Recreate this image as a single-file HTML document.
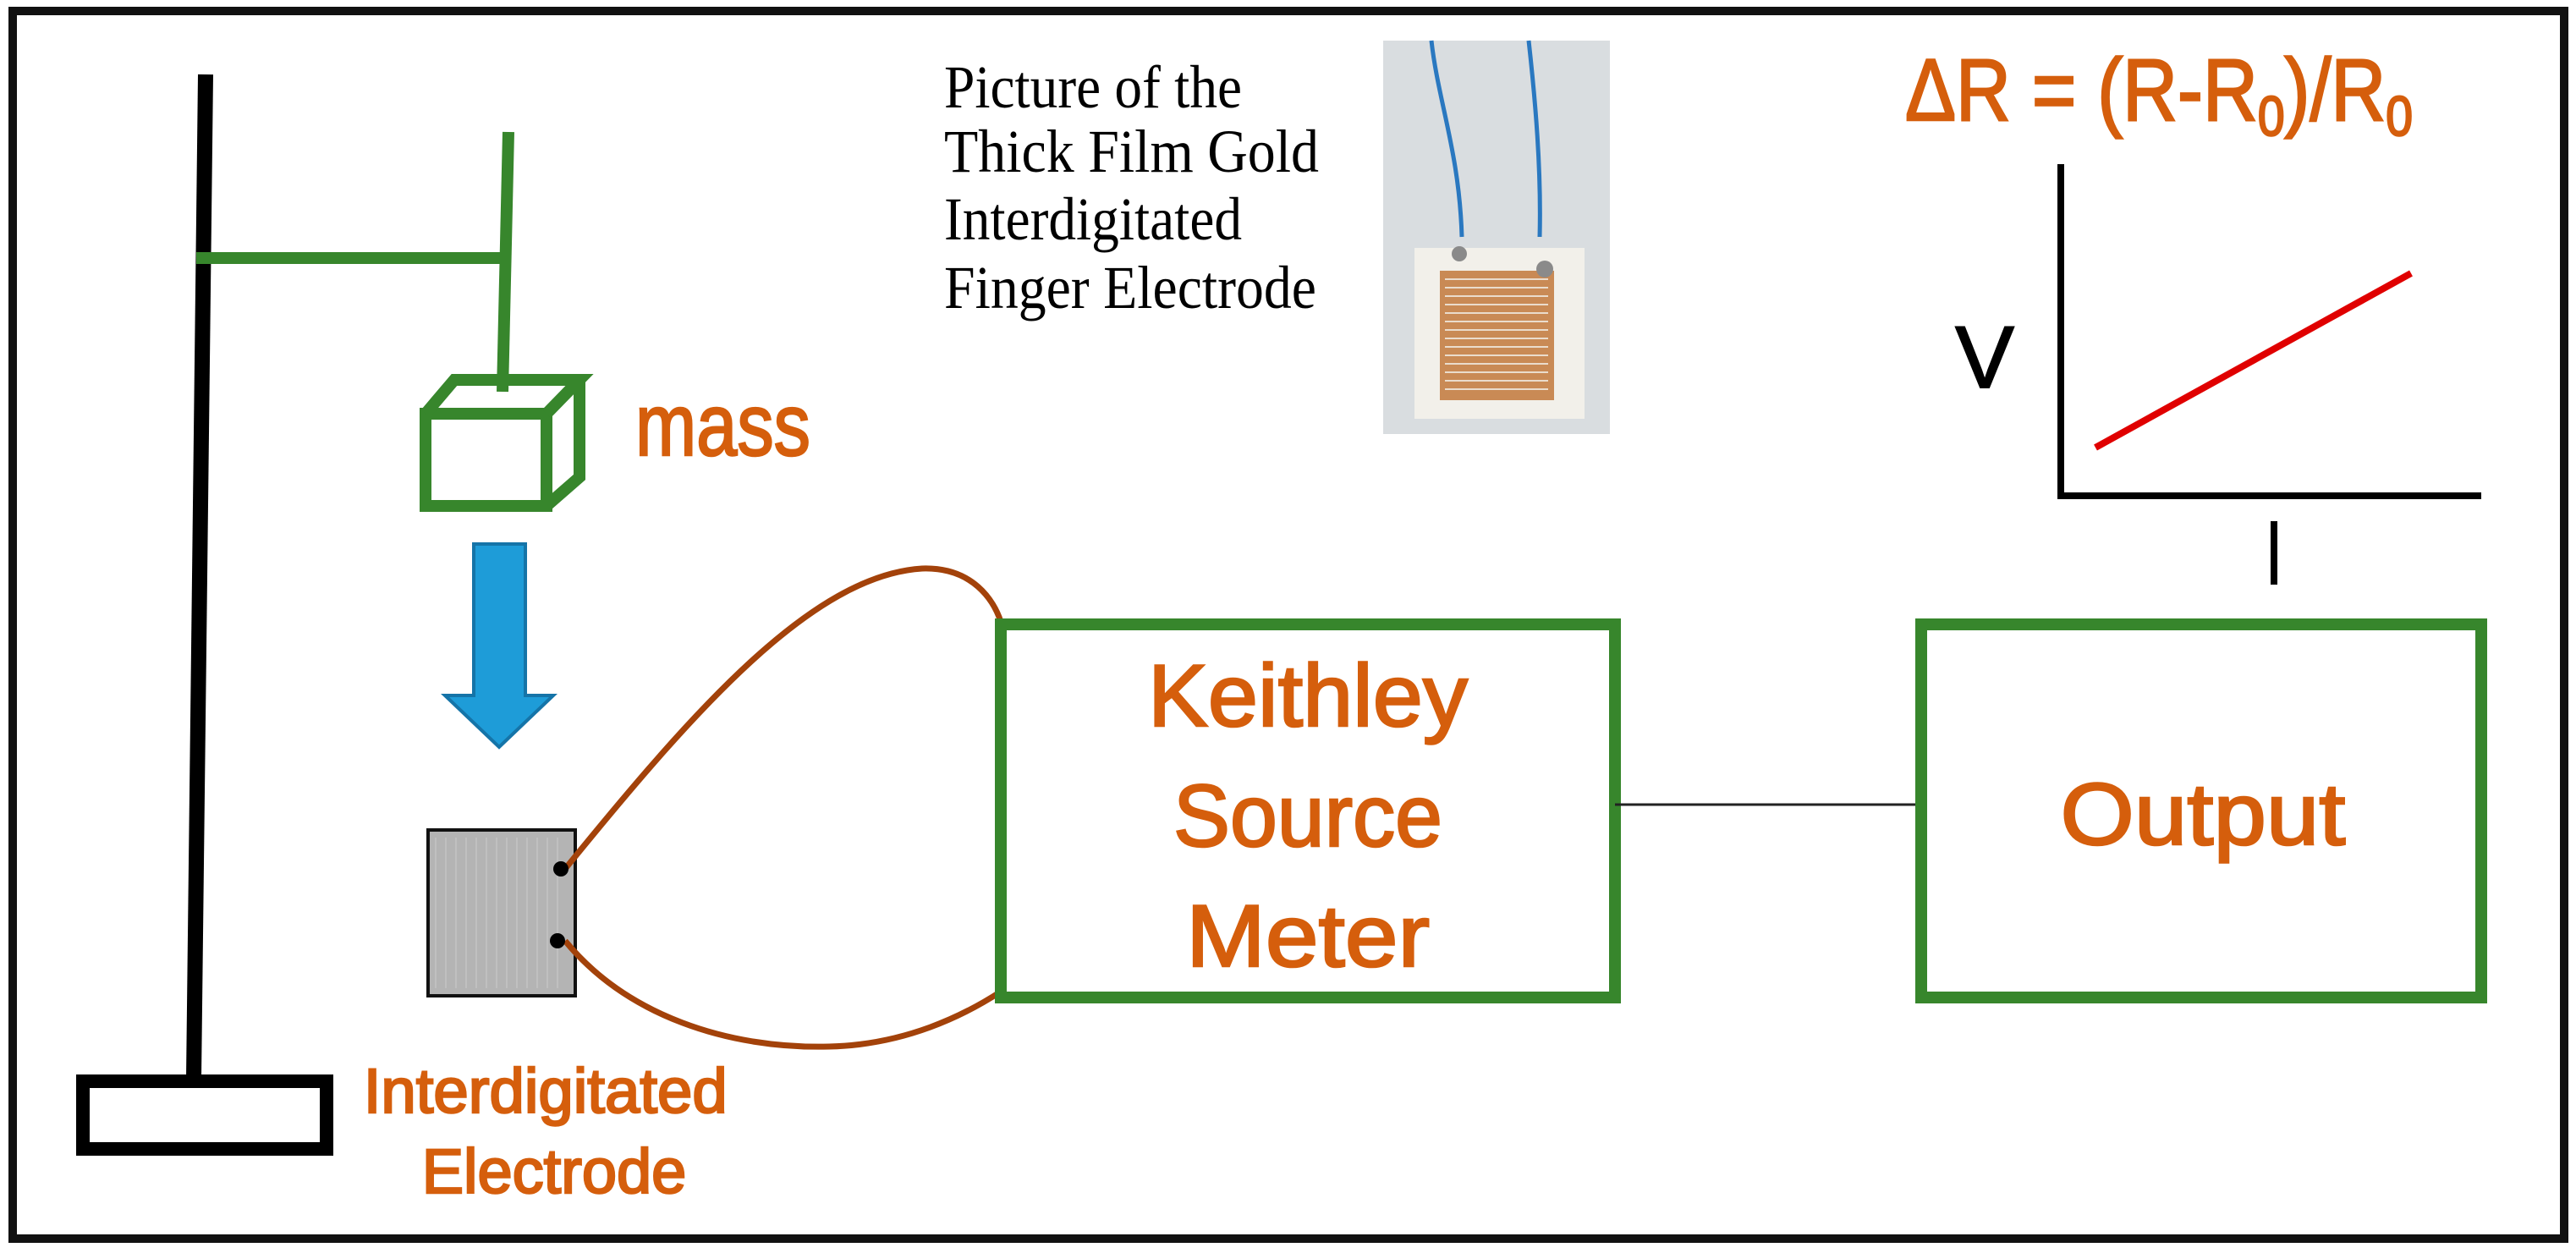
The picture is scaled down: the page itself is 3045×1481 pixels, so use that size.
<!DOCTYPE html>
<html><head><meta charset="utf-8"><style>html,body{margin:0;padding:0;background:#fff}svg{display:block}</style></head>
<body>
<svg width="3045" height="1481" viewBox="0 0 3045 1481" xmlns="http://www.w3.org/2000/svg">
<rect x="0" y="0" width="3045" height="1481" fill="#fff"/>
<rect x="15" y="13" width="3016" height="1451" fill="none" stroke="#111" stroke-width="10"/>
<!-- stand -->
<line x1="243" y1="88" x2="229" y2="1275" stroke="#000" stroke-width="18"/>
<rect x="98" y="1278" width="288" height="80" fill="#fff" stroke="#000" stroke-width="16"/>
<line x1="232" y1="305" x2="593" y2="305" stroke="#37862c" stroke-width="14"/>
<line x1="601" y1="156" x2="594" y2="463" stroke="#37862c" stroke-width="14"/>
<!-- cube -->
<g fill="none" stroke="#37862c" stroke-width="14" stroke-linejoin="miter">
<rect x="503" y="489" width="143" height="109"/>
<polyline points="503,489 537,449 685,449 646,489"/>
<polyline points="685,449 685,564 646,598"/>
</g>
<g fill="#d55e0c" stroke="#d55e0c" stroke-width="2.5" font-family="Liberation Sans, sans-serif">
<text x="751" y="538" font-size="104" textLength="207" lengthAdjust="spacingAndGlyphs">mass</text>
<text font-size="74" text-anchor="middle">
<tspan x="655" y="1315" textLength="430" lengthAdjust="spacingAndGlyphs">Interdigitated</tspan>
<tspan x="655" y="1410">Electrode</tspan>
</text>
</g>
<!-- blue arrow -->
<polygon points="560,643 621,643 621,822 654,822 590,883 526,822 560,822" fill="#1e9cd8" stroke="#1574a8" stroke-width="4"/>
<!-- electrode -->
<rect x="506" y="981" width="174" height="196" fill="#b4b4b4" stroke="#111" stroke-width="4"/>
<g stroke="#c4c4c4" stroke-width="1.5">
<line x1="515" y1="990" x2="515" y2="1168"/><line x1="527" y1="990" x2="527" y2="1168"/><line x1="539" y1="990" x2="539" y2="1168"/><line x1="551" y1="990" x2="551" y2="1168"/><line x1="563" y1="990" x2="563" y2="1168"/><line x1="575" y1="990" x2="575" y2="1168"/><line x1="587" y1="990" x2="587" y2="1168"/><line x1="599" y1="990" x2="599" y2="1168"/><line x1="611" y1="990" x2="611" y2="1168"/><line x1="623" y1="990" x2="623" y2="1168"/><line x1="635" y1="990" x2="635" y2="1168"/><line x1="647" y1="990" x2="647" y2="1168"/><line x1="659" y1="990" x2="659" y2="1168"/>
</g>
<!-- wires -->
<path d="M668,1027 C820,840 960,680 1090,672 C1150,670 1175,710 1183,735" fill="none" stroke="#a3420a" stroke-width="7"/>
<path d="M668,1112 C740,1200 860,1240 980,1237 C1070,1235 1140,1200 1183,1172" fill="none" stroke="#a3420a" stroke-width="7"/>
<circle cx="663" cy="1027" r="9" fill="#000"/>
<circle cx="659" cy="1112" r="9" fill="#000"/>
<!-- Keithley box -->
<rect x="1183" y="738" width="726" height="441" fill="none" stroke="#37862c" stroke-width="14"/>
<g font-family="Liberation Sans, sans-serif" font-size="104" fill="#d55e0c" stroke="#d55e0c" stroke-width="2.5" text-anchor="middle">
<text x="1546" y="858" textLength="378" lengthAdjust="spacingAndGlyphs">Keithley</text>
<text x="1546" y="1000" textLength="318" lengthAdjust="spacingAndGlyphs">Source</text>
<text x="1546" y="1142" textLength="288" lengthAdjust="spacingAndGlyphs">Meter</text>
<text x="2604" y="998" textLength="337" lengthAdjust="spacingAndGlyphs">Output</text>
</g>
<line x1="1909" y1="951" x2="2266" y2="951" stroke="#222" stroke-width="3"/>
<rect x="2271" y="738" width="662" height="441" fill="none" stroke="#37862c" stroke-width="14"/>
<!-- photo caption -->
<g font-family="Liberation Serif, serif" font-size="72" fill="#000">
<text x="1116" y="127" textLength="352" lengthAdjust="spacingAndGlyphs">Picture of the</text>
<text x="1116" y="203" textLength="443" lengthAdjust="spacingAndGlyphs">Thick Film Gold</text>
<text x="1116" y="283" textLength="352" lengthAdjust="spacingAndGlyphs">Interdigitated</text>
<text x="1116" y="364" textLength="440" lengthAdjust="spacingAndGlyphs">Finger Electrode</text>
</g>
<!-- photo -->
<rect x="1635" y="48" width="268" height="465" fill="#d9dde0"/>
<rect x="1672" y="293" width="201" height="202" fill="#f2f0ea"/>
<rect x="1702" y="320" width="135" height="153" fill="#c98a55"/>
<rect x="1717" y="293" width="105" height="27" fill="#f2f0ea"/>
<g stroke="#eadccc" stroke-width="2">
<line x1="1708" y1="330" x2="1830" y2="330"/><line x1="1708" y1="340" x2="1830" y2="340"/><line x1="1708" y1="350" x2="1830" y2="350"/><line x1="1708" y1="360" x2="1830" y2="360"/><line x1="1708" y1="370" x2="1830" y2="370"/><line x1="1708" y1="380" x2="1830" y2="380"/><line x1="1708" y1="390" x2="1830" y2="390"/><line x1="1708" y1="400" x2="1830" y2="400"/><line x1="1708" y1="410" x2="1830" y2="410"/><line x1="1708" y1="420" x2="1830" y2="420"/><line x1="1708" y1="430" x2="1830" y2="430"/><line x1="1708" y1="440" x2="1830" y2="440"/><line x1="1708" y1="450" x2="1830" y2="450"/><line x1="1708" y1="460" x2="1830" y2="460"/>
</g>
<path d="M1692,48 C1700,120 1725,180 1728,280" fill="none" stroke="#2a78c0" stroke-width="5"/>
<path d="M1807,48 C1815,120 1822,200 1820,280" fill="none" stroke="#2a78c0" stroke-width="5"/>
<circle cx="1725" cy="300" r="9" fill="#8a8a8a"/><circle cx="1826" cy="318" r="10" fill="#8a8a8a"/>
<!-- formula -->
<text x="2252" y="142" font-family="Liberation Sans, sans-serif" font-size="104" fill="#d55e0c" stroke="#d55e0c" stroke-width="2.5" textLength="600" lengthAdjust="spacingAndGlyphs">ΔR = (R-R<tspan font-size="66" dy="18">0</tspan><tspan dy="-18">)/R</tspan><tspan font-size="66" dy="18">0</tspan></text>
<!-- graph -->
<line x1="2436" y1="194" x2="2436" y2="590" stroke="#000" stroke-width="8"/>
<line x1="2432" y1="586" x2="2933" y2="586" stroke="#000" stroke-width="8"/>
<line x1="2477" y1="529" x2="2850" y2="323" stroke="#e00000" stroke-width="8"/>
<text x="2346" y="458" font-family="Liberation Sans, sans-serif" font-size="104" fill="#000" stroke="#000" stroke-width="2" text-anchor="middle">V</text>
<line x1="2688" y1="616" x2="2688" y2="691" stroke="#000" stroke-width="8"/>
</svg>
</body></html>
